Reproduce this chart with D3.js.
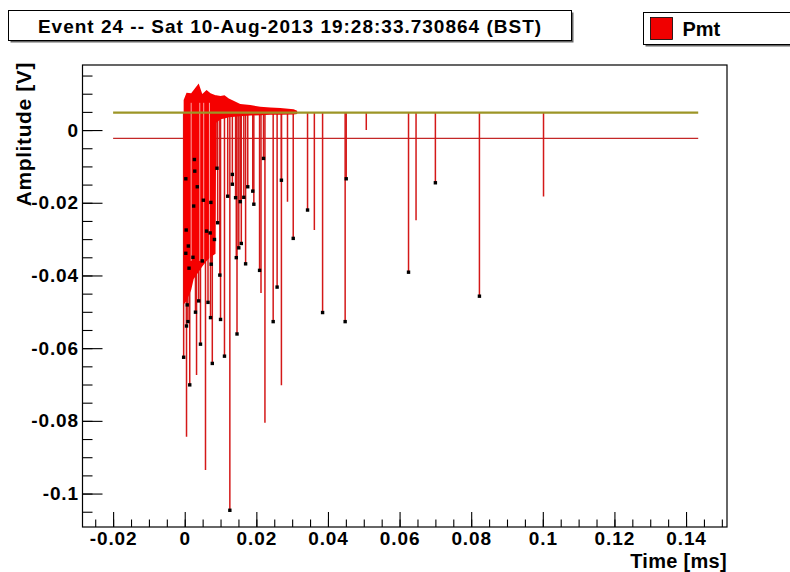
<!DOCTYPE html>
<html>
<head>
<meta charset="utf-8">
<script src="https://cdn.jsdelivr.net/npm/d3@7"></script>
<style>
  html, body { margin: 0; padding: 0; background: #ffffff; }
  svg { display: block; }
  text { font-family: "Liberation Sans", Arial, Helvetica, sans-serif; font-weight: bold; fill: #000; }
</style>
</head>
<body>
<svg id="chart" width="790" height="572"></svg>
<script>
// ---------------- data ----------------
const titleText = "Event 24 -- Sat 10-Aug-2013 19:28:33.730864 (BST)";
const legendLabel = "Pmt";
const xTitle = "Time [ms]";
const yTitle = "Amplitude [V]";

const xMajorTicks = [-0.02, 0, 0.02, 0.04, 0.06, 0.08, 0.1, 0.12, 0.14];
const xTickLabels = ["-0.02", "0", "0.02", "0.04", "0.06", "0.08", "0.1", "0.12", "0.14"];
const yMajorTicks = [-0.1, -0.08, -0.06, -0.04, -0.02, 0];
const yTickLabels = ["-0.1", "-0.08", "-0.06", "-0.04", "-0.02", "0"];

// trace extent (ms) and reference levels (V)
const traceRange = [-0.02, 0.1434];
const baselineLevel = 0.0048;
const thresholdLevel = -0.0023;

// dense burst: upper envelope and lower edge of the merged red region
const denseT      = [-0.0003, 0.0005, 0.0018, 0.0025, 0.0039, 0.0049, 0.0061, 0.0072, 0.0086, 0.0088, 0.0100, 0.0111, 0.0123, 0.0132, 0.0155, 0.0183, 0.0211, 0.0239, 0.0267, 0.0304, 0.0314];
const denseTop    = [0.0083, 0.0103, 0.0101, 0.0110, 0.0128, 0.0099, 0.0110, 0.0101, 0.0096, 0.0096, 0.0094, 0.0096, 0.0087, 0.0083, 0.0072, 0.0069, 0.0064, 0.0062, 0.0061, 0.0057, 0.0053];
const denseBottom = [-0.0480, -0.0470, -0.0440, -0.0410, -0.0390, -0.0375, -0.0360, -0.0350, -0.0340, 0.0020, 0.0030, 0.0032, 0.0035, 0.0036, 0.0038, 0.0040, 0.0041, 0.0042, 0.0042, 0.0043, 0.0044];
// light gaps inside the burst
const gapT = [0.0018, 0.0042, 0.0053, 0.0069];

// individual pulses: time (ms) and minimum amplitude (V)
const pulseT   = [-0.0003, 0.0014, 0.0005, 0.0009, 0.0007, 0.0012, 0.0023, 0.0049, 0.0074, 0.0039, 0.0030, 0.0044, 0.0065, 0.0072, 0.0077, 0.0100, 0.0098, 0.0111, 0.0126, 0.0144, 0.0146, 0.0170, 0.0209, 0.0247, 0.0258, 0.0385, 0.0448, 0.0220, 0.0270, 0.0343, 0.0303, 0.0451, 0.0193, 0.0176, 0.0190, 0.0133, 0.0120, 0.0142, 0.0155, 0.0165, 0.0090, 0.0052, 0.0073, 0.0025, 0.0035, 0.0092, 0.0061, 0.0083, 0.0158, 0.0151, 0.0700, 0.0625, 0.0823, 0.0005, 0.0058, 0.0224, 0.0270, 0.0213, 0.0033, 0.0646, 0.1002, 0.0507, 0.0362, 0.0287];
const pulseMin = [-0.0625, -0.0701, -0.0539, -0.0527, -0.0481, -0.0380, -0.0350, -0.0360, -0.0369, -0.0470, -0.0501, -0.0589, -0.0474, -0.0516, -0.0642, -0.0521, -0.0399, -0.0622, -0.1046, -0.0351, -0.0561, -0.0368, -0.0386, -0.0527, -0.0432, -0.0502, -0.0527, -0.0078, -0.0138, -0.0220, -0.0298, -0.0134, -0.0204, -0.0156, -0.0168, -0.0149, -0.0182, -0.0186, -0.0197, -0.0185, -0.0105, -0.0193, -0.0199, -0.0209, -0.0156, -0.0255, -0.0278, -0.0301, -0.0312, -0.0324, -0.0145, -0.0391, -0.0457, -0.0844, -0.0935, -0.0805, -0.0702, -0.0448, -0.0674, -0.0248, -0.0183, 0.0000, -0.0275, -0.0197];

// detected pulse peaks (black markers)
const markerT = [-0.0003, 0.0014, 0.0005, 0.0009, 0.0007, 0.0012, 0.0023, 0.0049, 0.0074, 0.0039, 0.0030, 0.0044, 0.0065, 0.0072, 0.0077, 0.0100, 0.0098, 0.0111, 0.0126, 0.0144, 0.0146, 0.0170, 0.0209, 0.0247, 0.0258, 0.0385, 0.0448, 0.0220, 0.0270, 0.0343, 0.0303, 0.0451, 0.0193, 0.0176, 0.0190, 0.0133, 0.0133, 0.0120, 0.0142, 0.0155, 0.0165, 0.0090, 0.0052, 0.0073, 0.0025, 0.0035, 0.0027, 0.0028, 0.0003, 0.0092, 0.0061, 0.0071, 0.0083, 0.0004, 0.0010, 0.0003, 0.0158, 0.0151, 0.0700, 0.0625, 0.0823];
const markerV = [-0.0625, -0.0701, -0.0539, -0.0527, -0.0481, -0.0380, -0.0350, -0.0360, -0.0369, -0.0470, -0.0501, -0.0589, -0.0474, -0.0516, -0.0642, -0.0521, -0.0399, -0.0622, -0.1046, -0.0351, -0.0561, -0.0368, -0.0386, -0.0527, -0.0432, -0.0502, -0.0527, -0.0078, -0.0138, -0.0220, -0.0298, -0.0134, -0.0204, -0.0156, -0.0168, -0.0122, -0.0149, -0.0182, -0.0186, -0.0197, -0.0185, -0.0105, -0.0193, -0.0199, -0.0209, -0.0156, -0.0081, -0.0113, -0.0134, -0.0255, -0.0278, -0.0283, -0.0301, -0.0275, -0.0319, -0.0339, -0.0312, -0.0324, -0.0145, -0.0391, -0.0457];

// ---------------- layout ----------------
const svg = d3.select("#chart");
const frame = { left: 82.5, right: 727, top: 65, bottom: 527 };

const x = d3.scaleLinear().domain([-0.02855, 0.15144]).range([frame.left, frame.right]);
const y = d3.scaleLinear().domain([-0.1092, 0.0179]).range([frame.bottom, frame.top]);

svg.append("rect").attr("width", 790).attr("height", 572).attr("fill", "#fff");

const plot = svg.append("g");
plot.append("clipPath").attr("id", "clip")
  .append("rect").attr("x", frame.left).attr("y", frame.top)
  .attr("width", frame.right - frame.left).attr("height", frame.bottom - frame.top);
const g = plot.append("g").attr("clip-path", "url(#clip)");

// threshold line
g.append("line")
  .attr("x1", x(traceRange[0])).attr("x2", x(traceRange[1]))
  .attr("y1", y(thresholdLevel)).attr("y2", y(thresholdLevel))
  .attr("stroke", "#c42828").attr("stroke-width", 1.2);

// pulses
const pulses = pulseT.map((t, i) => ({ t, v: pulseMin[i] }));
g.selectAll("line.pulse").data(pulses).enter().append("line")
  .attr("class", "pulse")
  .attr("x1", d => x(d.t)).attr("x2", d => x(d.t))
  .attr("y1", y(baselineLevel)).attr("y2", d => y(d.v))
  .attr("stroke", "#d41818").attr("stroke-width", 1.5);

// dense burst region
const dense = denseT.map((t, i) => ({ t, top: denseTop[i], bot: denseBottom[i] }));
g.append("path").datum(dense)
  .attr("d", d3.area().x(d => x(d.t)).y0(d => y(d.bot)).y1(d => y(d.top)))
  .attr("fill", "#f50000");

g.selectAll("line.gap").data(gapT).enter().append("line")
  .attr("class", "gap")
  .attr("x1", d => x(d)).attr("x2", d => x(d))
  .attr("y1", y(0.0075)).attr("y2", y(-0.036))
  .attr("stroke", "#ffc8c8").attr("stroke-width", 1).attr("opacity", 0.8);

// baseline (fitted pedestal)
g.append("line")
  .attr("x1", x(traceRange[0])).attr("x2", x(traceRange[1]))
  .attr("y1", y(baselineLevel)).attr("y2", y(baselineLevel))
  .attr("stroke", "#9c9526").attr("stroke-width", 2.2);

// markers
const markers = markerT.map((t, i) => ({ t, v: markerV[i] }));
g.selectAll("rect.mk").data(markers).enter().append("rect")
  .attr("class", "mk")
  .attr("x", d => x(d.t) - 1.7).attr("y", d => y(d.v) - 1.7)
  .attr("width", 3.4).attr("height", 3.4).attr("fill", "#000");

// frame
svg.append("rect")
  .attr("x", frame.left).attr("y", frame.top)
  .attr("width", frame.right - frame.left).attr("height", frame.bottom - frame.top)
  .attr("fill", "none").attr("stroke", "#000").attr("stroke-width", 1.2);

// ---------------- axes ----------------
const xMinor = d3.range(-0.025, 0.1501, 0.005).map(v => +v.toFixed(3));
const yMinor = d3.range(-0.105, 0.0151, 0.005).map(v => +v.toFixed(3));

const xAxis = svg.append("g").attr("transform", `translate(0,${frame.bottom})`)
  .call(d3.axisBottom(x).tickValues(xMajorTicks).tickSizeInner(-15).tickSizeOuter(0)
    .tickPadding(4.5).tickFormat((d, i) => xTickLabels[i]));
svg.append("g").attr("transform", `translate(0,${frame.bottom})`)
  .call(d3.axisBottom(x).tickValues(xMinor).tickSizeInner(-7.5).tickSizeOuter(0).tickFormat(""))
  .call(s => s.select(".domain").remove());

const yAxis = svg.append("g").attr("transform", `translate(${frame.left},0)`)
  .call(d3.axisLeft(y).tickValues(yMajorTicks).tickSizeInner(-20).tickSizeOuter(0)
    .tickPadding(3.5).tickFormat((d, i) => yTickLabels[i]));
svg.append("g").attr("transform", `translate(${frame.left},0)`)
  .call(d3.axisLeft(y).tickValues(yMinor).tickSizeInner(-10).tickSizeOuter(0).tickFormat(""))
  .call(s => s.select(".domain").remove());

[xAxis, yAxis].forEach(a => {
  a.select(".domain").remove();
  a.selectAll("text").attr("font-size", 19).attr("letter-spacing", "0.9px")
    .attr("font-family", "'Liberation Sans', Arial, sans-serif").attr("font-weight", "bold").attr("fill", "#000");
});
svg.selectAll(".tick line").attr("stroke", "#000").attr("stroke-width", 1.1);

// axis titles
svg.append("text").attr("x", frame.right).attr("y", 568)
  .attr("text-anchor", "end").attr("font-size", 20).attr("letter-spacing", "0.3px").text(xTitle);
svg.append("text").attr("transform", "translate(31,62) rotate(-90)")
  .attr("text-anchor", "end").attr("font-size", 21).attr("letter-spacing", "0.6px").text(yTitle);

// ---------------- title box ----------------
const tb = { x: 8.5, y: 10.5, w: 563, h: 30 };
svg.append("rect").attr("x", tb.x + 2).attr("y", tb.y + 2).attr("width", tb.w).attr("height", tb.h).attr("fill", "#666");
svg.append("rect").attr("x", tb.x).attr("y", tb.y).attr("width", tb.w).attr("height", tb.h)
  .attr("fill", "#fff").attr("stroke", "#000").attr("stroke-width", 1);
svg.append("text").attr("x", tb.x + tb.w / 2).attr("y", tb.y + 22)
  .attr("text-anchor", "middle").attr("font-size", 19).attr("letter-spacing", "1px").text(titleText);

// ---------------- legend ----------------
const lb = { x: 643.5, y: 12.5, w: 160, h: 32 };
svg.append("rect").attr("x", lb.x + 2).attr("y", lb.y + 2).attr("width", lb.w).attr("height", lb.h).attr("fill", "#666");
svg.append("rect").attr("x", lb.x).attr("y", lb.y).attr("width", lb.w).attr("height", lb.h)
  .attr("fill", "#fff").attr("stroke", "#000").attr("stroke-width", 1);
svg.append("rect").attr("x", lb.x + 7).attr("y", lb.y + 5).attr("width", 22).attr("height", 22)
  .attr("fill", "#f00000").attr("stroke", "#000").attr("stroke-width", 0.8);
svg.append("text").attr("x", lb.x + 39).attr("y", lb.y + 23)
  .attr("font-size", 20).text(legendLabel);
</script>
</body>
</html>
